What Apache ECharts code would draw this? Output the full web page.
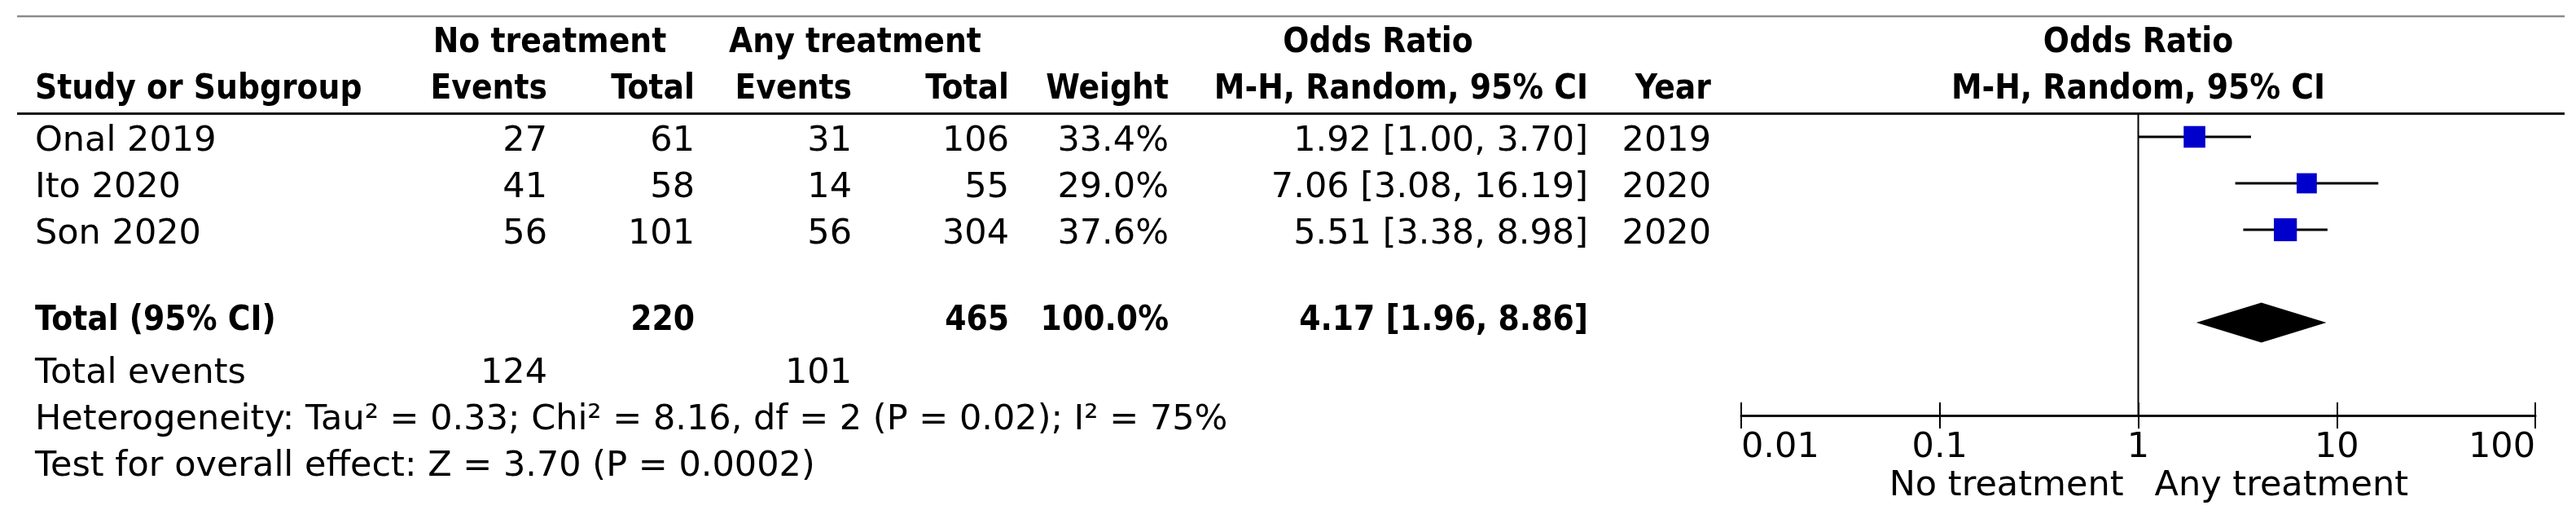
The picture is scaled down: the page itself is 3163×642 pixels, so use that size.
<!DOCTYPE html>
<html><head><meta charset="utf-8">
<script src="https://cdn.jsdelivr.net/npm/echarts@6/dist/echarts.min.js"></script>
<style>html,body{margin:0;padding:0;background:#fff}#c{width:3163px;height:642px}</style>
</head><body><div id="c"></div>
<script>
// ---------- data ----------
const studies = ['Onal 2019', 'Ito 2020', 'Son 2020'];
const noTxEvents = [27, 41, 56];
const noTxTotal = [61, 58, 101];
const anyTxEvents = [31, 14, 56];
const anyTxTotal = [106, 55, 304];
const weights = [33.4, 29.0, 37.6];
const orEst = [1.92, 7.06, 5.51];
const ciLow = [1.00, 3.08, 3.38];
const ciHigh = [3.70, 16.19, 8.98];
const years = [2019, 2020, 2020];
const totalLabel = 'Total (95% CI)';
const totalNoTx = 220;
const totalAnyTx = 465;
const totalWeight = 100.0;
const pooled = [4.17, 1.96, 8.86];
const totalEventsNoTx = 124;
const totalEventsAnyTx = 101;
const heterogeneityText = 'Heterogeneity: Tau\u00b2 = 0.33; Chi\u00b2 = 8.16, df = 2 (P = 0.02); I\u00b2 = 75%';
const overallText = 'Test for overall effect: Z = 3.70 (P = 0.0002)';
const tickValues = [0.01, 0.1, 1, 10, 100];
const tickLabels = ['0.01', '0.1', '1', '10', '100'];
const groupLabels = ['No treatment', 'Any treatment'];
const headerTop = ['No treatment', 'Any treatment', 'Odds Ratio'];
const headerCols = ['Study or Subgroup', 'Events', 'Total', 'Events', 'Total', 'Weight', 'M-H, Random, 95% CI', 'Year'];
const plotHeader = ['Odds Ratio', 'M-H, Random, 95% CI'];

// ---------- layout ----------
const REG_FAMILY = '"DejaVu Sans"';
const BOLD_FAMILY = '"DejaVu Sans Condensed", "DejaVu Sans"';
const FS_REG = 43;
const FS_BOLD = 42;
const COL = { study: 43, ne: 672, nt: 853, ae: 1046, at: 1239, w: 1435, or: 1950, yr: 2101,
              h1no: 675, h1any: 1050, h1or: 1692 };
const TXT_OFF = 0.105;

const cells = [];
function cell(text, x, k, align, bold, plotX) {
  cells.push({ text: String(text), x: x, k: k, align: align, bold: !!bold, plotX: plotX });
}
// header row 1
cell(headerTop[0], COL.h1no, -0.02, 'center', true);
cell(headerTop[1], COL.h1any, -0.02, 'center', true);
cell(headerTop[2], COL.h1or, -0.02, 'center', true);
cell(plotHeader[0], 0, -0.02, 'center', true, 0);
// header row 2
const hx = [COL.study, COL.ne, COL.nt, COL.ae, COL.at, COL.w, COL.or, COL.yr];
headerCols.forEach((h, i) => cell(h, hx[i], 0.98, i === 0 ? 'left' : 'right', true));
cell(plotHeader[1], 0, 0.98, 'center', true, 0);
// study rows
const fmt = v => v.toFixed(2);
studies.forEach((s, i) => {
  const k = 2 + i + TXT_OFF;
  cell(s, COL.study, k, 'left');
  cell(noTxEvents[i], COL.ne, k, 'right');
  cell(noTxTotal[i], COL.nt, k, 'right');
  cell(anyTxEvents[i], COL.ae, k, 'right');
  cell(anyTxTotal[i], COL.at, k, 'right');
  cell(weights[i].toFixed(1) + '%', COL.w, k, 'right');
  cell(fmt(orEst[i]) + ' [' + fmt(ciLow[i]) + ', ' + fmt(ciHigh[i]) + ']', COL.or, k, 'right');
  cell(years[i], COL.yr, k, 'right');
});
// total row
const kt = 6 - 0.035;
cell(totalLabel, COL.study, kt, 'left', true);
cell(totalNoTx, COL.nt, kt, 'right', true);
cell(totalAnyTx, COL.at, kt, 'right', true);
cell(totalWeight.toFixed(1) + '%', COL.w, kt, 'right', true);
cell(fmt(pooled[0]) + ' [' + fmt(pooled[1]) + ', ' + fmt(pooled[2]) + ']', COL.or, kt, 'right', true);
// footer rows
cell('Total events', COL.study, 7 + TXT_OFF, 'left');
cell(totalEventsNoTx, COL.ne, 7 + TXT_OFF, 'right');
cell(totalEventsAnyTx, COL.ae, 7 + TXT_OFF, 'right');
cell(heterogeneityText, COL.study, 8 + TXT_OFF, 'left');
cell(overallText, COL.study, 9 + 0.1, 'left');
// favours labels
cell(groupLabels[0], 0, 9.526, 'right', false, -18);
cell(groupLabels[1], 0, 9.526, 'left', false, 20);

const ruleRows = [-0.5965, 1.5];

const chart = echarts.init(document.getElementById('c'), null, { renderer: 'canvas' });

const logAxisBase = {
  type: 'log', logBase: 10, min: 0.01, max: 100,
  splitLine: { show: false }, minorTick: { show: false }
};

chart.setOption({
  animation: false,
  backgroundColor: '#fff',
  grid: [
    { left: 2138, width: 975, top: 54, height: 456 },
    { left: 2138, width: 975, top: 54, height: 456 }
  ],
  xAxis: [
    Object.assign({}, logAxisBase, {
      gridIndex: 0, position: 'bottom',
      axisLine: { show: true, onZero: false, lineStyle: { color: '#111', width: 3 } },
      axisTick: { show: true, inside: false, length: 16, lineStyle: { color: '#000', width: 2 } },
      axisLabel: {
        show: true, margin: 18, color: '#000', fontSize: FS_REG, fontFamily: REG_FAMILY,
        alignMinLabel: 'left', alignMaxLabel: 'right',
        formatter: v => {
          const i = tickValues.findIndex(t => Math.abs(Math.log10(t) - Math.log10(v)) < 1e-6);
          return i >= 0 ? tickLabels[i] : '';
        }
      }
    }),
    Object.assign({}, logAxisBase, {
      gridIndex: 1, position: 'bottom',
      axisLine: { show: false, onZero: false },
      axisTick: { show: true, inside: true, length: 16, lineStyle: { color: '#000', width: 2 } },
      axisLabel: { show: false }
    })
  ],
  yAxis: [
    { type: 'value', gridIndex: 0, min: 0, max: 8, inverse: true, show: false },
    { type: 'value', gridIndex: 1, min: 0, max: 8, inverse: true, show: false }
  ],
  series: [
    { // table rules
      type: 'custom', xAxisIndex: 0, yAxisIndex: 0, silent: true,
      data: ruleRows.map(k => [1, k]),
      renderItem: (params, api) => {
        const y = api.coord([1, api.value(1)])[1];
        const top = params.dataIndex === 0;
        return { type: 'line', shape: { x1: 21, y1: y, x2: 3149, y2: y },
                 style: { stroke: top ? '#8a8a8a' : '#111', lineWidth: top ? 2.5 : 3 } };
      }
    },
    { // line of no effect
      type: 'custom', xAxisIndex: 0, yAxisIndex: 0, silent: true,
      data: [[1, 1.5, 8]],
      renderItem: (params, api) => {
        const a = api.coord([api.value(0), api.value(1)]);
        const b = api.coord([api.value(0), api.value(2)]);
        return { type: 'line', shape: { x1: a[0], y1: a[1], x2: b[0], y2: b[1] },
                 style: { stroke: '#000', lineWidth: 2 } };
      }
    },
    { // study estimates
      type: 'custom', xAxisIndex: 0, yAxisIndex: 0, silent: true,
      data: studies.map((s, i) => [orEst[i], 2 + i, ciLow[i], ciHigh[i], weights[i]]),
      encode: { x: 0, y: 1 },
      renderItem: (params, api) => {
        const k = api.value(1);
        const p = api.coord([api.value(0), k]);
        const a = api.coord([api.value(2), k]);
        const b = api.coord([api.value(3), k]);
        const s = 4.6 * Math.sqrt(api.value(4));
        return { type: 'group', children: [
          { type: 'line', shape: { x1: a[0], y1: a[1], x2: b[0], y2: b[1] }, style: { stroke: '#000', lineWidth: 3 } },
          { type: 'rect', shape: { x: p[0] - s / 2, y: p[1] - s / 2, width: s, height: s }, style: { fill: '#0000cc' } }
        ] };
      }
    },
    { // pooled diamond
      type: 'custom', xAxisIndex: 0, yAxisIndex: 0, silent: true,
      data: [[pooled[0], 6, pooled[1], pooled[2]]],
      encode: { x: 0, y: 1 },
      renderItem: (params, api) => {
        const k = api.value(1);
        const p = api.coord([api.value(0), k]);
        const a = api.coord([api.value(2), k]);
        const b = api.coord([api.value(3), k]);
        const h = 24.5;
        return { type: 'polygon', shape: { points: [[a[0], p[1]], [p[0], p[1] - h], [b[0], p[1]], [p[0], p[1] + h]] },
                 style: { fill: '#000' } };
      }
    },
    { // table text
      type: 'custom', xAxisIndex: 0, yAxisIndex: 0, silent: true,
      data: cells.map(c => [1, c.k]),
      renderItem: (params, api) => {
        const c = cells[params.dataIndex];
        const pt = api.coord([1, c.k]);
        const x = c.plotX !== undefined ? pt[0] + c.plotX : c.x;
        return { type: 'text', x: x, y: pt[1],
                 style: { text: c.text, fill: '#000', fontSize: c.bold ? FS_BOLD : FS_REG,
                          fontFamily: c.bold ? BOLD_FAMILY : REG_FAMILY,
                          fontWeight: c.bold ? 'bold' : 'normal',
                          align: c.align, verticalAlign: 'middle' } };
      }
    }
  ]
});
</script></body></html>
